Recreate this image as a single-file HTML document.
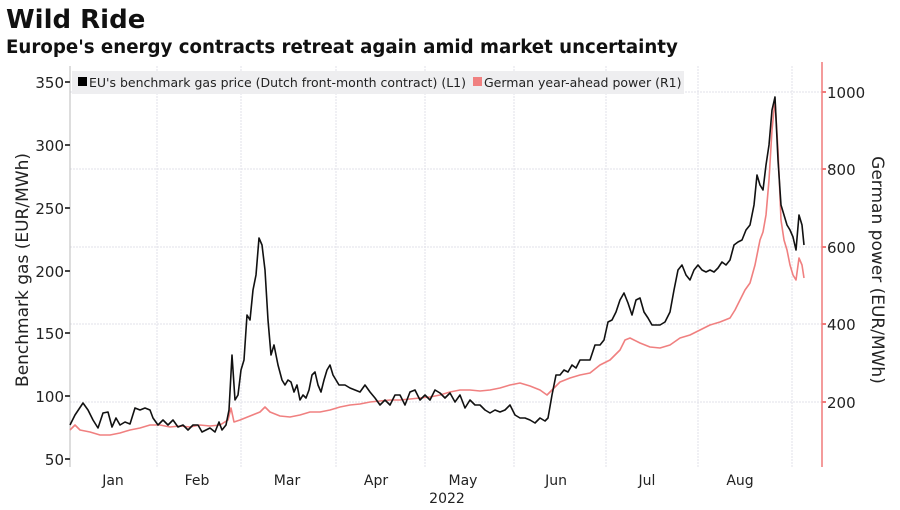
<!DOCTYPE html>
<html><head><meta charset="utf-8"><style>
body{margin:0;background:#fff;}
svg{display:block;font-family:"DejaVu Sans","Liberation Sans",sans-serif;}
</style></head><body>
<svg width="900" height="510" viewBox="0 0 900 510" xmlns="http://www.w3.org/2000/svg">
<text x="6" y="28" font-size="26" font-weight="bold" fill="#111">Wild Ride</text>
<text x="6" y="53" font-size="18.2" font-weight="bold" fill="#111">Europe's energy contracts retreat again amid market uncertainty</text>
<g stroke="#e2e2ea" stroke-width="1" stroke-dasharray="2,1">
<line x1="157" y1="66" x2="157" y2="467"/><line x1="241" y1="66" x2="241" y2="467"/>
<line x1="336" y1="66" x2="336" y2="467"/><line x1="425" y1="66" x2="425" y2="467"/>
<line x1="514" y1="66" x2="514" y2="467"/><line x1="606" y1="66" x2="606" y2="467"/>
<line x1="698" y1="66" x2="698" y2="467"/><line x1="792" y1="66" x2="792" y2="467"/>
<line x1="70" y1="92" x2="822" y2="92"/><line x1="70" y1="169" x2="822" y2="169"/>
<line x1="70" y1="247" x2="822" y2="247"/><line x1="70" y1="324" x2="822" y2="324"/>
<line x1="70" y1="402" x2="822" y2="402"/>
</g>
<rect x="72" y="71" width="612" height="23" fill="#eeeef0"/>
<rect x="78" y="77" width="9" height="9" fill="#000"/>
<text x="89" y="87" font-size="12.5" fill="#222">EU's benchmark gas price (Dutch front-month contract) (L1)</text>
<rect x="473" y="77" width="9" height="9" fill="#f08080"/>
<text x="484" y="87" font-size="12.5" fill="#222">German year-ahead power (R1)</text>
<line x1="70" y1="66" x2="70" y2="467" stroke="#bbb"/>
<line x1="822" y1="62" x2="822" y2="467" stroke="#f07a7a" stroke-width="1.5"/>
<g font-size="15" fill="#222" text-anchor="end">
<text x="64" y="88">350</text><text x="64" y="151">300</text><text x="64" y="214">250</text>
<text x="64" y="277">200</text><text x="64" y="339">150</text><text x="64" y="402">100</text><text x="64" y="465">50</text>
</g>
<g stroke="#444" stroke-width="2"><line x1="65" y1="82" x2="70" y2="82"/><line x1="65" y1="145" x2="70" y2="145"/><line x1="65" y1="208" x2="70" y2="208"/><line x1="65" y1="271" x2="70" y2="271"/><line x1="65" y1="333" x2="70" y2="333"/><line x1="65" y1="396" x2="70" y2="396"/><line x1="65" y1="459" x2="70" y2="459"/></g>
<g font-size="15" fill="#222"><text x="827" y="98">1000</text><text x="827" y="175">800</text><text x="827" y="253">600</text><text x="827" y="330">400</text><text x="827" y="408">200</text></g>
<g stroke="#f07a7a" stroke-width="2"><line x1="822" y1="92" x2="826" y2="92"/><line x1="822" y1="169" x2="826" y2="169"/><line x1="822" y1="247" x2="826" y2="247"/><line x1="822" y1="324" x2="826" y2="324"/><line x1="822" y1="402" x2="826" y2="402"/></g>
<text transform="translate(28,270) rotate(-90)" font-size="17" fill="#222" text-anchor="middle">Benchmark gas (EUR/MWh)</text>
<text transform="translate(872,270) rotate(90)" font-size="17" fill="#222" text-anchor="middle">German power (EUR/MWh)</text>
<g font-size="14" fill="#222" text-anchor="middle">
<text x="113" y="485">Jan</text><text x="197" y="485">Feb</text><text x="287" y="485">Mar</text><text x="376" y="485">Apr</text>
<text x="463" y="485">May</text><text x="556" y="485">Jun</text><text x="647" y="485">Jul</text><text x="740" y="485">Aug</text>
<text x="447" y="503">2022</text></g>
<polyline fill="none" stroke="#f08080" stroke-width="1.6" stroke-linejoin="round" points="70,430 75,425 80,430 90,432 100,435 110,435 120,433 130,430 140,428 150,425 160,425 170,427 180,426 190,427 200,425 210,426 220,425 228,420 231,408 234,422 240,420 250,416 260,412 265,407 270,412 280,416 290,417 300,415 310,412 320,412 330,410 340,407 350,405 360,404 370,402 380,401 390,400 400,400 410,399 420,398 430,397 440,395 450,392 460,390 470,390 480,391 490,390 500,388 510,385 520,383 530,386 540,390 547,395 552,390 560,382 570,378 580,375 590,373 600,365 610,360 620,350 625,340 630,338 640,343 650,347 660,348 670,345 680,338 690,335 700,330 710,325 720,322 730,318 735,310 740,300 745,290 750,283 755,265 760,240 763,232 766,215 769,180 772,130 775,100 778,150 781,220 784,240 787,250 790,265 793,275 796,280 799,258 802,265 804,278"/>
<polyline fill="none" stroke="#111" stroke-width="1.6" stroke-linejoin="round" points="70,425 75,415 83,403 88,410 93,420 98,428 103,413 108,412 112,427 116,418 120,425 125,422 130,424 135,408 140,410 145,408 150,410 153,418 158,425 163,420 168,425 173,420 178,427 183,425 188,430 193,425 198,425 202,432 206,430 210,428 215,432 219,422 222,430 226,425 229,410 232,355 235,400 238,395 241,370 244,360 247,315 250,320 253,290 256,275 259,238 262,245 265,270 268,320 271,355 274,345 278,365 282,380 285,385 288,380 291,382 294,392 297,385 300,400 303,395 306,398 309,390 312,375 315,372 318,385 321,392 324,380 327,370 330,365 333,375 336,380 339,385 345,385 350,388 355,390 360,392 365,385 370,392 375,398 380,405 385,400 390,405 395,395 400,395 405,405 410,392 415,390 420,400 425,395 430,400 435,390 440,393 445,398 450,393 455,402 460,395 465,408 470,400 475,405 480,405 485,410 490,413 495,410 500,412 505,410 510,405 515,415 520,418 525,418 530,420 535,423 540,418 545,421 548,418 552,395 556,375 560,375 564,370 568,372 572,365 576,368 580,360 585,360 590,360 595,345 600,345 604,340 608,322 612,320 616,312 620,300 624,293 628,303 632,315 636,300 640,298 644,312 648,318 652,325 656,325 660,325 665,322 670,312 674,290 678,270 682,265 686,275 690,280 694,270 698,265 702,270 706,272 710,270 714,272 718,268 722,262 726,265 730,260 734,245 738,242 742,240 746,230 750,225 754,205 757,175 760,185 763,190 766,165 769,145 772,110 775,97 778,160 781,205 784,215 787,225 790,230 793,237 796,250 799,215 802,225 804,245"/>
</svg>
</body></html>
